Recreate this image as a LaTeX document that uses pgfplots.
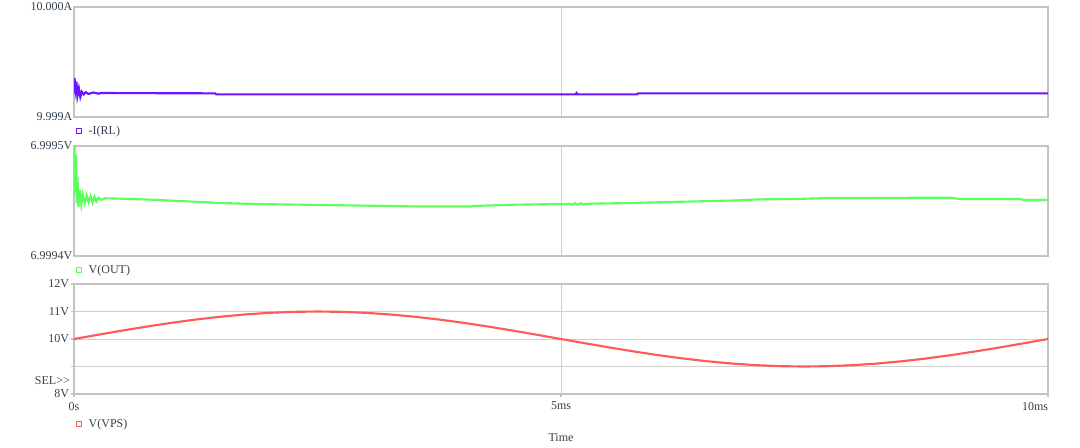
\documentclass[border=0pt]{standalone}
\usepackage{pgfplots}
\pgfplotsset{compat=1.18}
\usepackage{fontspec}
\setmainfont{Liberation Serif}
\definecolor{cI}{HTML}{6A14FF}
\definecolor{cOut}{HTML}{5CFF5C}
\definecolor{cVps}{HTML}{FF5A5A}
\definecolor{frame}{HTML}{C4C4C4}
\definecolor{gridc}{HTML}{CFCFCF}
\definecolor{txt}{HTML}{34404E}
\newcommand\lblfont{\fontsize{9}{10}\selectfont}
\pgfplotsset{
  panel/.style={
    scale only axis, width=730.5pt, height=82.5pt,
    xmin=0, xmax=10,
    axis line style={frame, line width=0.9pt},
    tick style={frame, line width=0.8pt},
    tick align=outside, major tick length=2.5pt,
    xtick pos=bottom, ytick pos=left,
    xmajorgrids, major grid style={gridc, line width=0.7pt},
    ticklabel style={font=\lblfont, text=txt},
    yticklabel style={inner xsep=1pt},
    legend style={draw=none, fill=none, inner sep=0pt, font=\lblfont, text=txt,
      legend cell align=left},
    legend image code/.code={\draw[#1, line width=0.6pt, fill=white] (0pt,-1.9pt) rectangle (3.8pt,1.9pt);},
    clip=true,
  }
}
\begin{document}
\begin{tikzpicture}
\path[use as bounding box] (0,0) rectangle (810pt,-335.25pt);
% Panel 1: -I(RL), values in units of 1e-5 A above 9.999 A
\begin{axis}[panel, at={(55.5pt,-5.25pt)}, anchor=north west,
  ymin=0, ymax=100, ytick={0,100}, yticklabels={9.999A,10.000A},
  xtick={5}, xticklabels={}, major tick length=0pt,
  legend style={at={(0.002,-0.127)}, anchor=west}]
\addplot[cI, line width=1.6pt] coordinates {
(0,21.8) (0.005,35.5) (0.015,25) (0.025,32) (0.035,19) (0.05,26) (0.065,18.2) (0.08,23)
(0.1,20.5) (0.12,22.5) (0.15,21) (0.2,22.3) (0.25,21.2) (0.28,21.8) (1.45,21.5) (1.46,20.6)
(5.15,20.6) (5.16,21.8) (5.17,20.6) (5.78,20.6) (5.79,21.5) (10,21.5)};
\addlegendentry{\,\,-I(RL)}
\end{axis}
% Panel 2: V(OUT), values in units of 1e-6 V above 6.9994 V
\begin{axis}[panel, at={(55.5pt,-109.5pt)}, anchor=north west,
  ymin=0, ymax=100, ytick={0,100}, yticklabels={6.9994V,6.9995V},
  xtick={5}, xticklabels={}, major tick length=0pt,
  legend style={at={(0.002,-0.127)}, anchor=west}]
\addplot[cOut, line width=1.6pt] coordinates {
(0,55) (0.005,100) (0.012,62) (0.02,92) (0.028,48) (0.036,72) (0.045,44.8) (0.06,60)
(0.075,47) (0.09,56) (0.11,48) (0.13,55) (0.15,49) (0.17,54.5) (0.19,48.5) (0.21,54)
(0.23,49.5) (0.25,53) (0.28,51) (0.32,52.5) (0.4,52.3) (0.6,51.8) (0.78,51.2) (1.09,50.0)
(1.5,48.2) (1.86,47.3) (2.53,46.4) (3.55,45.0) (4.07,45.0) (4.1,45.5) (4.5,46.6) (5.0,47.3)
(5.05,47.0) (5.08,47.6) (5.11,46.6) (5.14,48.0) (5.17,46.7) (5.2,47.9) (5.23,46.9) (5.27,47.5)
(5.71,48.2) (6.12,49.1) (6.79,50.5) (7.04,51.5) (7.4,51.8) (7.74,52.7) (8.99,53.0) (9.1,51.8)
(9.71,51.8) (9.75,50.9) (10,50.9)};
\addlegendentry{\,\,V(OUT)}
\end{axis}
% Panel 3: V(VPS)
\begin{axis}[panel, at={(55.5pt,-213pt)}, anchor=north west,
  ymin=8, ymax=12, ytick={8,9,10,11,12}, yticklabels={8V,,10V,11V,12V},
  ymajorgrids,
  xtick={0,5,10}, xticklabels={0s,5ms,\llap{10ms}},
  xlabel={Time}, xlabel style={at={(axis description cs:0.5,-0.4)}, anchor=center,
    font=\lblfont, text=txt},
  legend style={at={(0.002,-0.273)}, anchor=west},
  after end axis/.code={
    \node[anchor=east, font=\lblfont, text=txt, inner sep=0pt] at (axis description cs:-0.004,0.125) {SEL>\kern0pt>};
  }]
\addplot[cVps, line width=1.6pt] coordinates {
(0,10) (0.25,10.1564) (0.5,10.3090) (0.75,10.4540) (1,10.5878) (1.25,10.7071) (1.5,10.8090)
(1.75,10.8910) (2,10.9511) (2.25,10.9877) (2.5,11) (2.75,10.9877) (3,10.9511) (3.25,10.8910)
(3.5,10.8090) (3.75,10.7071) (4,10.5878) (4.25,10.4540) (4.5,10.3090) (4.75,10.1564) (5,10)
(5.25,9.8436) (5.5,9.6910) (5.75,9.5460) (6,9.4122) (6.25,9.2929) (6.5,9.1910) (6.75,9.1090)
(7,9.0489) (7.25,9.0123) (7.5,9) (7.75,9.0123) (8,9.0489) (8.25,9.1090) (8.5,9.1910)
(8.75,9.2929) (9,9.4122) (9.25,9.5460) (9.5,9.6910) (9.75,9.8436) (10,10)};
\addlegendentry{\,\,V(VPS)}
\end{axis}
\end{tikzpicture}
\end{document}
